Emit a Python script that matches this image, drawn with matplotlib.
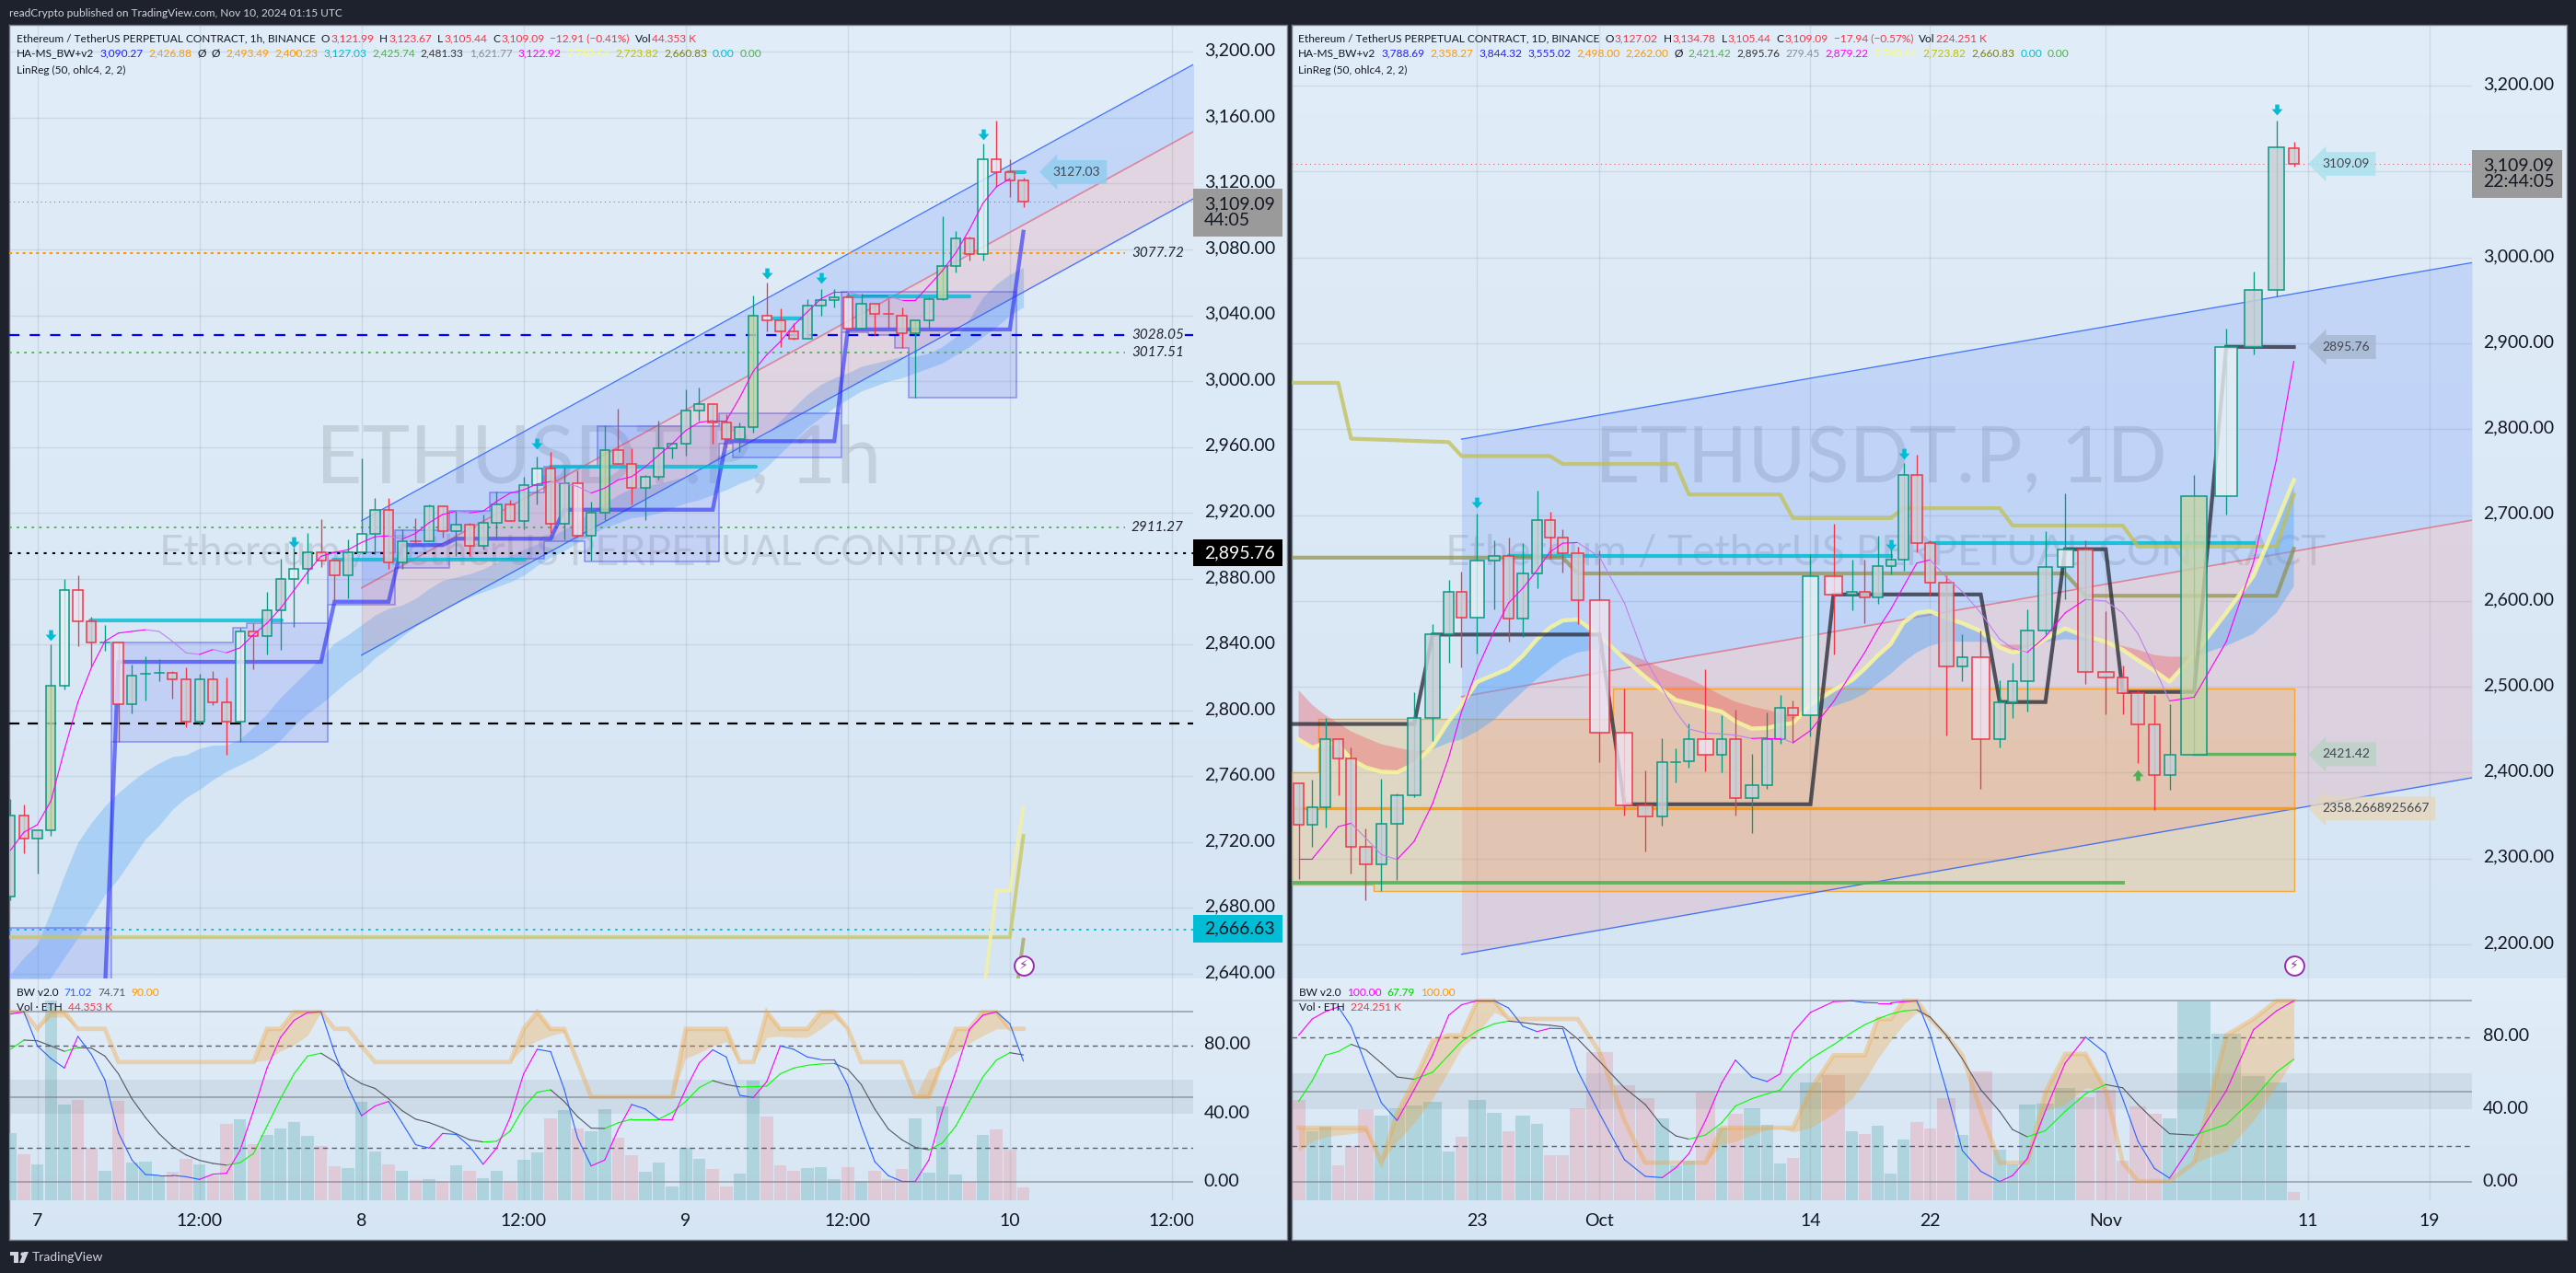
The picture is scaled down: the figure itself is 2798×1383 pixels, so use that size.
import numpy as np
import matplotlib
matplotlib.use('Agg')
import matplotlib.pyplot as plt
from matplotlib.colors import to_rgba
from matplotlib.path import Path
from matplotlib.transforms import Bbox, TransformedBbox, ScaledTranslation

plt.rcParams['font.family'] = ['Lato', 'DejaVu Sans']

W, H = 2798, 1383

# ---------- 1h chart, bars run from index -2 (22:00 Nov 6) to 73 (01:00 Nov 10)
h_start = -2
h_open = [2687,2736,2722,2727,2815,2873,2854,2841,2841,2804,2821,2822,2823,2819,2793,2819,2805,2793,2848,2845,2861,2880,2886,2896,2891,2882,2896,2907,2922,2890,2903,2903,2924,2909,2913,2900,2914,2925,2915,2937,2947,2913.5,2938,2906,2920,2958,2950,2935,2942,2959,2962,2982,2986,2975,2965,2972,3040,3037,3030,3026,3046,3049,3051,3032,3047,3041,3040,3029,3037,3050,3070,3086.5,3077,3134.6,3127,3121.99]
h_high = [2746,2743,2727,2840,2880,2882,2857,2852,2841,2828,2833,2831,2824,2826,2822,2824,2820,2850,2853,2872,2892,2899,2908,2916,2891,2904,2953,2929,2929,2910,2917,2925,2924,2921,2914,2919,2933,2928,2942,2954,2957,2947.5,2946,2927,2973,2983,2959,2943,2976,2962,2995,2996,2986,2980,2975,3052,3060,3044,3035,3050,3056,3056,3054,3053,3047,3050,3045,3037,3051,3100,3091,3088,3144,3158,3135,3123.67]
h_low = [2685,2713,2701,2724,2813,2839,2827,2836,2781,2798,2806,2818,2807,2790,2791,2803,2773,2781,2825,2834,2837,2851,2877,2887,2866,2868,2896,2895,2886,2886,2901,2903,2905,2894,2894,2898,2904,2915,2910,2925,2908,2904,2905,2891,2915.5,2950,2925,2915.5,2940,2953,2955,2976,2962,2960,2957,2969,3030,3021,3025,3026,3040,3045,3031,3032,3028,3032,3020,2990,3032,3049,3066,3073,3073,3118,3112,3105.44]
h_close = [2736,2722,2727,2815,2873,2854,2841,2841.5,2804,2821,2822,2823,2819,2793,2819,2805,2793,2848,2845,2861,2880,2886,2896,2891,2882,2896,2907,2922,2890,2903,2902.5,2924,2909,2913,2900,2914,2925,2915,2937,2947,2913.5,2938,2906,2920,2958,2950,2935,2942,2959,2962,2982,2986,2975,2965,2972,3040,3037,3030,3026,3046,3049,3051,3032,3047,3041,3040.5,3029,3037,3050,3070,3086.5,3077,3134.6,3127,3122,3109.09]
h_vol = [231,158,124,689,329,345,180,102,343,129,133,87,97,143,124,87,263,279,194,226,247,269,222,187,117,111,340,168,124,101,70,73,63,120,101,76,101,67,139,165,282,310,247,238,314,215,155,98,130,48,181,143,108,48,92,412,288,120,101,111,114,73,114,67,101,73,108,282,95,323,89,63,225,244,174,44]
h_bright = [2,3,6,15,19,24,37,40,54,60,70,71]
h_green_fill = [1,42,53,65,67]

h_magenta = [2715,2726,2730.6,2745,2776,2805,2826,2842,2847,2848,2849,2848,2842,2835,2834,2837,2835,2838,2846,2853,2862,2873,2884,2893.6,2896,2897.6,2902,2905.5,2906,2904,2907.5,2914,2919,2921,2920,2921,2927,2932,2934,2937.5,2939,2938,2936,2932,2935,2940,2942,2948,2955,2962,2970,2975,2976,2976,2990,3006,3016,3024,3034,3042,3050,3054,3054,3052,3052,3052,3049,3049,3058,3067,3078,3092,3108,3118,3123]
h_ema_up = [2640,2650,2658,2678,2700,2720,2732,2742,2750,2757,2763,2768,2772,2773,2777,2779,2779,2782.5,2790,2798,2808,2816,2824,2832,2841,2846,2852,2858,2862,2864,2868,2874,2879,2881,2883,2886,2890,2894,2898,2901,2905,2910,2915,2921,2926,2931,2935,2936,2938,2940,2942,2946,2952,2958,2961,2964,2968,2976,2984,2992,2998,3002,3005,3009,3011,3013,3015,3015,3017,3021,3027,3038,3051,3059,3065,3069]
h_ema_lo = [2600,2610,2625,2638,2650,2662,2675,2688,2698,2710,2722,2730,2740,2747,2752,2758,2763,2767,2771,2776,2782,2791,2798,2804,2811,2818,2824,2832,2838,2845,2851,2856,2861,2865,2869,2872,2875,2878,2882,2888,2893,2897,2902,2907,2911,2914,2917,2918,2920,2923,2926,2928,2931,2934,2938,2941,2948,2956,2964,2972,2978,2984,2989,2994,2997,3000,3002,3005,3008,3011,3016,3021,3027,3033,3040,3045]

h_step_x = [5,6,21,22,26,27,30,31,38,39,50,51,59,60,72,73]
h_step_y = [2630,2829.5,2829.5,2866,2866,2900.4,2900.4,2904.3,2904.3,2921.9,2921.9,2963.5,2963.5,3031.4,3031.4,3090.7]

h_box_edges = [-2.1,5.5,14.5,15.5,21.5,26.5,30.5,33.5,37.5,40.5,41.5,50.5,51.5,59.5,61.5,63.5,64.5,72.5]
h_box_top = [2667.9,2841.4,2850.4,2853.2,2896,2909.5,2921,2932.5,2948,2948,2972.8,2980.2,2980.2,3054.1,3054.1,3054.1,3054.1]
h_box_bot = [2600,2781,2781,2781,2864.4,2886.8,2892.3,2892.3,2903,2890.4,2890.4,2961.9,2953.9,3029.8,3027.8,3020,2989.8]

h_cyan_segs = [(3.9,18.1,2854.4),(21.9,36.1,2891.4),(38,53.2,2947.9),(54.4,56.6,3037.8),(60,69,3051.7),(71.9,73.1,3127.03)]
h_arrows_i = [1,19,37,54,58,70]
h_arrows_p = [2846,2902,2962,3065.7,3062.5,3150]
h_lr_x = [24,85.6]
h_lr_mid = [2874.4,3151.6]
h_lr_dev = 40.8
h_pale_x = [70,71,72,73]
h_pale_y = [2625,2690.7,2690.7,2740.64]
h_khaki_x = [-2.1,72,73]
h_khaki_y = [2662.2,2662.2,2723.82]
h_olive_x = [72,73]
h_olive_y = [2600,2660.83]

h_k = [98.7,100,80,72.6,67,85.6,75,60,29,13,4.5,4,4,3.2,1.6,4.7,5.2,18.6,42,67,85,95,99.6,100,76,55.5,39,44.7,47.4,34.8,22,20,28.6,28,21,10.5,20,38,63.6,78,76.6,54.6,25.8,9.5,13,31,45.6,43,37,37,54.6,70,77.7,73.5,51,49.7,59,80,78,73.5,72,72,57,33,12,3.8,0.5,0.5,13,42,65,89.7,98,100,93,71.02]
h_d = [78,83.4,83,80,76.8,79,78.7,74,63.6,49,38,28.5,21,16,12.8,11,10,11.4,16.8,33,49,63.6,74,75.7,70.8,62.7,57.8,55,49,42,37,35,32,28.5,24.9,23.6,24,30,43.8,52.8,54.2,47.4,38.4,31.7,31.5,34.8,37,37,37,41,47.4,55.5,59.6,57.3,55.9,56,56.4,63.6,67,68.6,69.4,69.7,66.3,57.3,42.9,31.2,24.9,20.4,19,23,33,47.4,61.8,71.7,76,74.71]
h_o = [100,100,90,100,100,90,90,90,70.5,70.5,70.5,70.5,70.5,70.5,70.5,70.5,70.5,70.5,70.5,90,90,100,100,100,90,90,80,70.5,70.5,70.5,70.5,70.5,70.5,70.5,70.5,70.5,70.5,70.5,90,100,90,90,70.5,50,50,50,50,50,50,50,90,90,90,90,70.5,70.5,100,90,90,90,100,100,90,70.5,70.5,70.5,70.5,50,50,70.5,90,90,100,100,90,90]
h_l = [100,100,90,97,97,90,90,90,70.5,70.5,70.5,70.5,70.5,70.5,70.5,70.5,70.5,70.5,70.5,71.7,77,80.7,86,100,90,90,80,70.5,70.5,70.5,70.5,70.5,70.5,70.5,70.5,70.5,70.5,70.5,79,83,86,88,70.5,50,50,50,50,50,50,50,72.6,76,80,82.5,70.5,70.5,85,85.7,85,85,90,96,90,70.5,70.5,70.5,70.5,50,66.3,69,76,81.6,86,90,90,90]

# ---------- 1D chart, Sep 11 to Nov 10, bar widths follow the chart's volume scaling
d_width = [15.3,14.3,14.1,13.9,14,18,15.9,18.2,18.9,21.1,13.9,14,20,17.1,13.9,17,14.1,13.9,14,18.2,29.6,24.3,20.9,15.9,13.9,14.3,21.8,13.2,16.8,18.9,14.3,13.9,14,24,26.1,13.9,13.9,14.3,13.9,13.9,15,13.9,21.1,13.9,26.1,15,12.9,19.3,20,22.9,21.4,22.5,14.3,18.9,16.8,16.1,37.1,32.9,26.1,23.9,13.9]
d_open = [2387,2339,2360,2439,2416,2314,2293,2340,2374,2464,2561,2611,2580,2647,2652,2579,2632,2694,2674,2656,2601,2447,2362,2349,2412,2413,2439,2421,2439,2370,2385,2439,2475,2467,2629,2607,2610,2604,2641,2648,2747,2667,2621,2524,2534,2439,2482,2507,2566,2639,2660,2517,2511,2493,2456,2397,2421,2722,2896,2962,3127.02]
d_high = [2388,2391.5,2463.5,2439.5,2429,2335,2392.6,2375.4,2494,2572.6,2624.3,2634,2702,2670.3,2673.4,2667.2,2728.5,2703.6,2683,2662.6,2658.8,2498,2402.2,2439.7,2428.3,2457,2520.2,2466.5,2473,2421.4,2470,2490.3,2483.8,2654.2,2689.4,2648,2648,2675.7,2662.6,2760.4,2770,2671,2629.4,2561.7,2566,2507.5,2527.8,2590.6,2681.7,2724.8,2670.6,2587.5,2524.7,2497,2490.9,2479.8,2746.4,2916.9,2983.4,3159.5,3134.78]
d_low = [2275.8,2313.4,2336.3,2373.5,2282.3,2251.7,2262.4,2275,2371.6,2436.7,2527.8,2522.5,2539,2589.9,2552.7,2558,2614.8,2649.2,2633.2,2573.4,2412.6,2350.1,2308.4,2338.3,2388.8,2406,2401.4,2400.3,2349.7,2329.4,2381.1,2433.6,2434.8,2442.4,2537.4,2589,2573.8,2596.8,2630.9,2635,2657,2606.4,2443.4,2506.3,2381.3,2429.3,2463.2,2471.2,2561.7,2601.7,2503.2,2467.5,2467.5,2410.8,2356.6,2380,2421,2700.2,2887.4,2954.4,3105.44]
d_close = [2339,2360,2439,2416,2314,2293,2340,2374,2464,2561,2611,2580,2647,2652,2579,2632,2694,2674,2656,2601,2447,2362,2349,2412,2412.4,2439,2421,2439,2370,2385,2439,2475,2467,2629,2607,2610,2604,2641,2648,2747,2667,2621,2524,2534,2439,2482,2507,2566,2639,2660,2517,2511,2493,2456,2397,2421,2722,2896,2962,3128,3109.09]
d_vol = [2826,1942,2088,980,1526,2566,2384,2592,2670,2774,1370,1786,2826,2462,1942,2384,2150,1266,1266,2592,4178,3242,2878,2306,980,1110,3034,2046,2436,2592,2124,1032,1188,3320,3528,1942,1864,2098,746,1708,2202,2020,2878,1838,3632,1422,1006,2696,2722,3164,2904,3112,1110,2644,2436,2306,5624,4698,3502,3320,224]
d_bright = [12,20,21,26,33,34,44,49,57]
d_green_fill = [56]

d_yellow = [2438.6,2429,2434.8,2432.8,2415.6,2406,2401,2400.3,2410,2431,2459.7,2478.8,2505.6,2514,2521,2536,2555.4,2568.8,2577.2,2578.4,2559.2,2532.4,2511.4,2496,2484.5,2480.7,2475.7,2471,2459.6,2451.2,2452,2455.8,2457.7,2478.8,2496,2507.5,2521,2536.3,2549.7,2574.6,2586,2588,2580,2574,2564.7,2546,2540,2543,2555.5,2567.8,2558.6,2552.4,2543,2531,2518.6,2506,2537,2586,2629,2691,2740.64]
d_ema2 = [2496,2478.8,2467,2457.7,2448,2440.5,2433,2429,2425,2427,2434.8,2438.6,2448,2461.6,2478.8,2494,2509.4,2521,2532.4,2540,2544,2540,2530.5,2521,2515,2509.4,2500,2490,2482.6,2477,2473,2469.2,2465.4,2469,2477,2484.6,2492,2503.7,2515,2528.6,2540,2547.7,2552.4,2552.4,2552.4,2549,2549,2549,2552,2555.5,2553.6,2551,2547.5,2543,2537,2535,2535,2547.5,2561.7,2586,2617]
d_magenta = [2299.6,2299.6,2318,2337,2341,2323.7,2304.5,2298.8,2320,2364,2417.5,2471,2521,2565,2597.5,2614.8,2635.8,2657,2667.2,2668,2651,2597.5,2532.4,2498,2471,2450.8,2446,2445,2443.6,2439.7,2440.5,2440.5,2434.8,2449,2482.6,2517,2540,2567,2590,2616.7,2644,2647.8,2627.5,2610.9,2586,2555.5,2545,2540,2558.6,2586,2601.7,2599.8,2586,2561.7,2521.6,2483.5,2487.8,2552.4,2644.8,2764.8,2879.22]
d_step_i = [0,8,9,20,21,33,34,44,45,48,49,51,52,56,57,60]
d_step_y = [2456.6,2456.6,2560.8,2560.8,2363.1,2363.1,2607.5,2607.5,2482.2,2482.2,2660.2,2660.2,2494,2494,2896,2895.76]
d_olive_i = [0,18,19,49,50,59,60]
d_olive_y = [2650.4,2650.4,2632,2632,2606,2606,2660.83]
d_khaki_i = [0,3,4,10,11,17,18,24,25,31,32,38,39,45,46,52,53,59,60]
d_khaki_y = [2854,2854,2789,2785,2768.7,2768.7,2759.5,2759.5,2724,2724,2696.4,2696.4,2708,2708,2687.8,2687.8,2663.3,2663.3,2723.82]

d_box_edges_i = [0,2,6,21,61]
d_box_top = [2400.3,2462.7,2462.7,2498]
d_box_bot = [2270,2270,2261.6,2261.6]
d_lr_start = 11
d_lr_mid = [2488.4,2694]
d_lr_dev = 300
d_arrows_i = [12,38,39,59]
d_arrows_p = [2714,2665,2771.4,3172]
d_k = [81,90,94,96.6,86,64.8,43.7,34,51,70,92,97.8,100,100,96,86,83,84.8,84.6,61.4,37.7,12.4,3.2,2.5,8,15.7,34,54.7,67.3,58,55.5,59.7,82.6,93.6,99.5,100,99,98.8,98.8,99.5,100,81.7,51,17.4,6,0.3,3.6,13,39.4,65.7,80,71,46,22.5,7.6,2.2,22.5,50.4,84,94.4,100]
d_d = [44.5,56,70,72,76,73,65.6,58,56.7,60.6,70,77.5,83.4,87.3,88.8,88,87,86.5,85.6,79,66.5,52,42.8,31,25.5,23.7,26,32.7,42,46,48.7,50.8,59.7,68,75.8,82.6,86.8,90,92.7,94.4,95,91,81,68,51,39,29,25,28.4,39,48.7,53.8,52,42.8,34,26.7,25.9,31.8,46,60.6,67.79]
d_o = [30,30,30,30,30,30,10.7,38,56,78,81,81,100,100,90,90,90,90,90,90,71.6,34,10.7,10.7,10.7,10.7,10.7,30,30,30,30,30,30,51,70,70,70,90,90,100,100,90,81,70,39.4,10.7,10.7,10.7,49.6,70.7,70.7,51,10.7,0.5,0.5,0.5,10.7,81,90,100,100]
d_l = [17,22.5,25,26,26.7,28,10.7,22.5,32.7,46,61.4,74,81.7,93.6,90,90,90,90,90,90,71.6,34,10.7,10.7,10.7,10.7,10.7,20.8,22.5,26,29,30,27.6,30,37.7,46,56,68,78,86.8,93.6,90,81,70,39.4,10.7,10.7,10.7,39.4,42.8,52,51,10.7,0.5,0.5,0.5,10.7,17.4,34,53,68]

fig = plt.figure(figsize=(W / 100, H / 100), dpi=100, facecolor='#1e222d')
TICK_SIZE = 14


def px_axes(x0, y0, x1, y1, z=2):
    ax = fig.add_axes([x0 / W, 1 - y1 / H, (x1 - x0) / W, (y1 - y0) / H], zorder=z)
    ax.patch.set_alpha(0)
    for s in ax.spines.values():
        s.set_visible(False)
    return ax


def style_ticks(ax):
    ax.yaxis.tick_right()
    ax.tick_params(axis='y', length=0, pad=8.5, labelsize=TICK_SIZE, labelcolor='#131722')
    ax.tick_params(axis='x', length=0, pad=10, labelsize=TICK_SIZE, labelcolor='#131722')
    ax.grid(True, color='#8a9aa8', alpha=0.22, lw=1)
    ax.set_axisbelow(True)


def nudge(ax):
    # the reference prints its scale labels a little above the gridline
    off = ScaledTranslation(0, 2.0 / 72, fig.dpi_scale_trans)
    for lab in ax.get_yticklabels():
        lab.set_transform(lab.get_transform() + off)


def candles(ax, x, o, h, l, c, width, bright, greenish, lw=1.1):
    for n in range(len(o)):
        col = '#089981' if c[n] >= o[n] else '#f23645'
        fill = to_rgba('#c8cfd7', 0.85)
        if n in bright:
            fill = to_rgba('#e9f0f5', 0.8) if c[n] >= o[n] else to_rgba('#eee4f2', 0.8)
        if n in greenish:
            fill = to_rgba('#c2d4a6', 0.8)
        wd = width[n] if np.ndim(width) else width
        top, bot = max(o[n], c[n]), min(o[n], c[n])
        ax.plot([x[n], x[n]], [l[n], h[n]], color=col, lw=0.95, zorder=5, solid_capstyle='butt')
        if top - bot < 1.2:
            ax.plot([x[n] - wd / 2, x[n] + wd / 2], [top, top], color=col, lw=lw, zorder=5)
        else:
            ax.bar(x[n], top - bot, wd, bot, facecolor=fill, edgecolor=col, lw=lw, zorder=5)


def dir_line(ax, x, y, up, down, lw=0.8, z=6):
    for n in range(len(x) - 1):
        col = up if y[n + 1] >= y[n] else down
        ax.plot(x[n:n + 2], y[n:n + 2], color=col, lw=lw, zorder=z, solid_capstyle='round')


arrow_path = Path([(-0.38, 1), (0.38, 1), (0.38, 0.15), (1, 0.15), (0, -1), (-1, 0.15), (-0.38, 0.15), (-0.38, 1)], closed=True)
arrow_up = Path([(-0.38, -1), (0.38, -1), (0.38, -0.15), (1, -0.15), (0, 1), (-1, -0.15), (-0.38, -0.15), (-0.38, -1)], closed=True)


def osc_pane(ax, x, k, d, o, l, ymin, ymax):
    ax.yaxis.tick_right()
    ax.grid(False, axis='y')
    ax.axhspan(40, 60, color='#5d6b7a', alpha=0.11, lw=0, zorder=1)
    for v in (100, 50, 0):
        ax.axhline(v, color='#787b86', alpha=0.7, lw=1.1, zorder=2)
    for v in (80, 20):
        ax.axhline(v, color='#5a5e6b', lw=1.0, ls=(0, (4, 3)), zorder=2)
    ax.fill_between(x, o, l, color='#f5a030', alpha=0.3, lw=0, zorder=3)
    ax.plot(x, o, color='#f5a030', alpha=0.35, lw=3.4, zorder=3, solid_joinstyle='miter')
    dir_line(ax, x, d, '#00ff00', '#555761')
    dir_line(ax, x, k, '#ff00ff', '#2962ff')
    ax.set_ylim(ymin, ymax)
    ax.set_yticks([0, 40, 80])
    ax.set_yticklabels(['0.00', '40.00', '80.00'])
    nudge(ax)


# backgrounds, each pane fades from a lighter top to a darker bottom
bg = fig.add_axes([0, 0, 1, 1], zorder=0)
bg.axis('off')
grad = np.linspace(0, 1, 256)[:, None, None]
grad = (np.array([225, 237, 248]) + grad * (np.array([214, 229, 244]) - np.array([225, 237, 248]))) / 255
for box in [(10, 27, 1398, 1063), (10, 1063, 1398, 1347), (1403, 27, 2788, 1063), (1403, 1063, 2788, 1347)]:
    bg.imshow(grad, extent=(box[0], box[2], box[3], box[1]), aspect='auto', interpolation='bilinear')
bg.plot([10, 1398, 1398, 10, 10], [27, 27, 1347, 1347, 27], color='#787b86', lw=1)
bg.plot([1403, 2788, 2788, 1403, 1403], [27, 27, 1347, 1347, 27], color='#787b86', lw=1)
bg.set_xlim(0, W)
bg.set_ylim(H, 0)

# ---------- left price pane
ax = px_axes(10, 27, 1296, 1063)
style_ticks(ax)
h_x = np.arange(h_start, h_start + len(h_open))
ax.set_xlim(-2.086, 85.57)
ax.set_ylim(2637.2, 3216.4)
ax.set_yticks(np.arange(2640, 3201, 40))
ax.set_yticklabels([f'{v:,.2f}' for v in np.arange(2640, 3201, 40)])
nudge(ax)
hour_ticks = np.arange(0, 85, 12)
ax.set_xticks(hour_ticks)
ax.tick_params(axis='x', labelbottom=False)

ax.text(650, 500, 'ETHUSDT.P, 1h', fontsize=63, color='#434651', alpha=0.15, ha='center', va='center',
        transform=bg.transData, zorder=1)
ax.text(651, 601, 'Ethereum / TetherUS PERPETUAL CONTRACT', fontsize=33, color='#434651', alpha=0.15, ha='center',
        va='center', transform=bg.transData, zorder=1)

ax.fill_between(h_x, h_ema_lo, h_ema_up, color='#5aa9f7', alpha=0.35, lw=0, zorder=2)
ax.stairs(h_box_top, h_box_edges, baseline=h_box_bot, fill=True, color='#5b62f5', alpha=0.17, lw=0, zorder=2)
ax.stairs(h_box_top, h_box_edges, baseline=h_box_bot, fill=False, color='#4a50f0', alpha=0.55, lw=1.1, zorder=2)

mid = np.array(h_lr_mid)
ax.fill_between(h_lr_x, mid, mid + h_lr_dev, color='#2962ff', alpha=0.15, lw=0, zorder=2)
ax.fill_between(h_lr_x, mid - h_lr_dev, mid, color='#f23645', alpha=0.12, lw=0, zorder=2)
ax.plot(h_lr_x, mid + h_lr_dev, color='#2962ff', lw=0.95, alpha=0.85, zorder=3)
ax.plot(h_lr_x, mid - h_lr_dev, color='#2962ff', lw=0.95, alpha=0.85, zorder=3)
ax.plot(h_lr_x, mid, color='#f23645', lw=1.2, alpha=0.5, zorder=3)

for level, col, style, lw, xmax in [(2911.27, '#4caf50', (0, (1.5, 3)), 1.3, 80.5), (3017.51, '#4caf50', (0, (1.5, 3)), 1.3, 80.5),
                                    (3028.05, '#0000ff', (0, (5, 5)), 1.6, 80.5), (3077.72, '#ff9800', (0, (1.5, 2)), 1.5, 80.5),
                                    (2895.76, '#000000', (0, (1.5, 3)), 1.5, 85.6), (2791.9, '#000000', (0, (5, 4)), 1.6, 85.6),
                                    (2666.63, '#00bcd4', (0, (1.5, 3)), 1.3, 85.6), (3109.09, '#f23645', (0, (1, 4)), 0.7, 85.6)]:
    ax.plot([-2.1, xmax], [level, level], color=col, ls=style, lw=lw, zorder=4)
for lab, level in [('3077.72', 3077.72), ('3028.05', 3028.05), ('3017.51', 3017.51), ('2911.27', 2911.27)]:
    ax.text(81, level, lab, fontsize=11, style='italic', color='#22252e', va='center', ha='left', zorder=7)
ax.plot([85, 85.6], [3028.05, 3028.05], color='#0000ff', lw=1.6, zorder=4)

ax.plot(h_khaki_x, h_khaki_y, color='#c8c860', alpha=0.8, lw=2.8, zorder=4)
ax.plot(h_pale_x, h_pale_y, color='#f0f0a8', alpha=0.9, lw=2.8, zorder=4)
ax.plot(h_olive_x, h_olive_y, color='#a0a050', alpha=0.7, lw=2.8, zorder=4)
ax.plot(h_step_x, h_step_y, color='#2a2ff5', alpha=0.62, lw=3.1, zorder=4, solid_joinstyle='miter')
for x0, x1, p in h_cyan_segs:
    ax.plot([x0, x1], [p, p], color='#00bcd4', alpha=0.8, lw=3.0, zorder=4, solid_capstyle='round')

candles(ax, h_x, h_open, h_high, h_low, h_close, 0.7, [n + 2 for n in h_bright], [n + 2 for n in h_green_fill])
dir_line(ax, h_x[:len(h_magenta)], h_magenta, '#ff00ff', '#c080f0')
ax.plot(h_arrows_i, h_arrows_p, ls='', marker=arrow_path, ms=8.5, color='#00bcd4', mew=0, zorder=7)
ax.text(75.2, 3127.03, '3127.03', fontsize=10, color='#434651', va='center', ha='left', zorder=7,
        bbox=dict(boxstyle='larrow,pad=0.5', fc='#92cdf0', ec='none', alpha=0.85))
ax.scatter([73], [2644.8], s=225, fc='white', ec='#9c27b0', lw=1.4, zorder=8)
ax.text(73, 2644.8, '\u26a1', fontsize=10, color='#9c27b0', ha='center', va='center', family='DejaVu Sans', zorder=9)

# ---------- left oscillator pane
ax2 = px_axes(10, 1063, 1296, 1304)
style_ticks(ax2)
ax2.set_xlim(-2.086, 85.57)
h_colors = ['#8cc5cc' if c >= o else '#e5b3c0' for o, c in zip(h_open, h_close)]
vax = ax2.twinx()
vax.patch.set_alpha(0)
vax.set_ylim(0, (1304 - 1063) * 3.168)
vax.bar(h_x, h_vol, 0.92, color=h_colors, alpha=0.55, zorder=1)
vax.axis('off')
vax.set_zorder(ax2.get_zorder() - 1)
osc_pane(ax2, h_x, h_k, h_d, h_o, h_l, -10.65, 119.6)
ax2.set_xticks(hour_ticks)
ax2.set_xticklabels(['7', '12:00', '8', '12:00', '9', '12:00', '10', '12:00'])
clip = TransformedBbox(Bbox([[0, -0.5], [1, 1]]), ax2.transAxes)
for lab in ax2.get_xticklabels():
    lab.set_clip_on(True)
    lab.set_clip_box(clip)

# ---------- right price pane
edges = 1402.9 + np.concatenate([[0], np.cumsum(d_width)])
d_x = (edges[:-1] + edges[1:]) / 2
d_bw = np.array(d_width)
day = 16.5
ax3 = px_axes(1403, 27, 2685, 1063)
style_ticks(ax3)
ax3.set_xlim(1403, 2685)
ax3.set_ylim(2160.2, 3271)
ax3.set_yticks(np.arange(2200, 3201, 100))
ax3.set_yticklabels([f'{v:,.2f}' for v in np.arange(2200, 3201, 100)])
nudge(ax3)
d_ticks = [d_x[12], d_x[20], d_x[33], d_x[41], d_x[51], edges[-1] + day / 2, edges[-1] + day * 8.5]
ax3.set_xticks(d_ticks)
ax3.tick_params(axis='x', labelbottom=False)

ax3.text(2043, 500, 'ETHUSDT.P, 1D', fontsize=62, color='#434651', alpha=0.15, ha='center', va='center',
         transform=bg.transData, zorder=1)
ax3.text(2048, 601, 'Ethereum / TetherUS PERPETUAL CONTRACT', fontsize=33, color='#434651', alpha=0.15, ha='center',
         va='center', transform=bg.transData, zorder=1)

lr_x = [d_x[d_lr_start], 2685]
mid = np.array(d_lr_mid)
ax3.fill_between(lr_x, mid, mid + d_lr_dev, color='#2962ff', alpha=0.15, lw=0, zorder=2)
ax3.fill_between(lr_x, mid - d_lr_dev, mid, color='#f23645', alpha=0.12, lw=0, zorder=2)
ax3.plot(lr_x, mid + d_lr_dev, color='#2962ff', lw=0.95, alpha=0.85, zorder=3)
ax3.plot(lr_x, mid - d_lr_dev, color='#2962ff', lw=0.95, alpha=0.85, zorder=3)
ax3.plot(lr_x, mid, color='#f23645', lw=1.2, alpha=0.5, zorder=3)

box_edges = [edges[n] for n in d_box_edges_i]
box_edges[0] = 1403
box_edges[-1] = d_x[-1]
ax3.stairs(d_box_top, box_edges, baseline=d_box_bot, fill=True, color='#ff9800', alpha=0.2, lw=0, zorder=2)
ax3.stairs(d_box_top, box_edges, baseline=d_box_bot, fill=False, color='#ff9800', alpha=0.75, lw=1.0, zorder=2)

yel = np.array(d_yellow)
ema2 = np.array(d_ema2)
ax3.fill_between(d_x, yel, ema2, where=yel >= ema2, interpolate=True, color='#5aa9f7', alpha=0.45, lw=0, zorder=3)
ax3.fill_between(d_x, yel, ema2, where=yel < ema2, interpolate=True, color='#f2505a', alpha=0.35, lw=0, zorder=3)

ax3.plot([1403, d_x[-1]], [2358.27, 2358.27], color='#ff9800', lw=2.4, alpha=0.85, zorder=4)
ax3.plot([1403, d_x[52]], [2272, 2272], color='#4caf50', lw=2.8, alpha=0.85, zorder=4)
ax3.plot([d_x[56], d_x[60]], [2421.42, 2421.42], color='#4caf50', lw=2.4, alpha=0.85, zorder=4)
ax3.plot([d_x[14], d_x[38]], [2652.3, 2652.3], color='#00bcd4', lw=3.0, alpha=0.85, zorder=4)
ax3.plot([d_x[41], d_x[58]], [2667.5, 2667.5], color='#00bcd4', lw=3.0, alpha=0.85, zorder=4)
ax3.plot([1403, 2685], [3109.09, 3109.09], color='#f23645', ls=(0, (1, 4)), lw=0.7, zorder=4)

ax3.plot(np.r_[1403, d_x[d_khaki_i]], np.r_[d_khaki_y[0], d_khaki_y], color='#c0c050', alpha=0.75, lw=3.0, zorder=4)
ax3.plot(np.r_[1403, d_x[d_olive_i]], np.r_[d_olive_y[0], d_olive_y], color='#8f8f45', alpha=0.7, lw=3.0, zorder=4)
ax3.plot(d_x, d_yellow, color='#f4f4a0', alpha=0.9, lw=3.2, zorder=4)
ax3.plot(np.r_[1403, d_x[d_step_i]], np.r_[d_step_y[0], d_step_y], color='#2a2d3a', alpha=0.78, lw=3.0, zorder=4, solid_joinstyle='miter')

candles(ax3, d_x, d_open, d_high, d_low, d_close, d_bw * 0.74, d_bright, d_green_fill)
dir_line(ax3, d_x, d_magenta, '#ff00ff', '#c080f0')
ax3.plot(d_x[d_arrows_i], d_arrows_p, ls='', marker=arrow_path, ms=8.5, color='#00bcd4', mew=0, zorder=7)
ax3.plot([d_x[53]], [2397.3], ls='', marker=arrow_up, ms=8.5, color='#4caf50', mew=0, zorder=7)
for lab, level, col, tx in [('3109.09', 3109.09, '#a8e2ee', 2522), ('2895.76', 2895.76, '#a6b6d0', 2522),
                            ('2421.42', 2421.42, '#b8d2c4', 2522), ('2358.2668925667', 2358.27, '#e6d6bc', 2522)]:
    ax3.text(tx, level, lab, fontsize=10, color='#434651', va='center', ha='left', zorder=7,
             bbox=dict(boxstyle='larrow,pad=0.5', fc=col, ec='none', alpha=0.8))
ax3.scatter([d_x[-1]], [2175], s=225, fc='white', ec='#9c27b0', lw=1.4, zorder=8)
ax3.text(d_x[-1], 2175, '\u26a1', fontsize=10, color='#9c27b0', ha='center', va='center', family='DejaVu Sans', zorder=9)

# ---------- right oscillator pane
ax4 = px_axes(1403, 1063, 2685, 1304)
style_ticks(ax4)
ax4.set_xlim(1403, 2685)
d_colors = ['#8cc5cc' if c >= o else '#e5b3c0' for o, c in zip(d_open, d_close)]
vax2 = ax4.twinx()
vax2.patch.set_alpha(0)
vax2.set_ylim(0, (1304 - 1063) * 26)
vax2.bar(d_x, d_vol, d_bw - 1.2, color=d_colors, alpha=0.55, zorder=1)
vax2.axis('off')
vax2.set_zorder(ax4.get_zorder() - 1)
osc_pane(ax4, d_x, d_k, d_d, d_o, d_l, -10, 112.3)
ax4.set_xticks(d_ticks)
ax4.set_xticklabels(['23', 'Oct', '14', '22', 'Nov', '11', '19'])

# ---------- price tags and header text, placed in figure pixels
over = fig.add_axes([0, 0, 1, 1], zorder=10)
over.axis('off')
over.set_xlim(0, W)
over.set_ylim(H, 0)
over.patch.set_alpha(0)


def tag(x0, y0, x1, y1, col, lines, tcol):
    over.fill([x0, x1, x1, x0], [y0, y0, y1, y1], color=col, lw=0)
    yy = np.linspace(y0, y1, len(lines) + 2)[1:-1]
    for s, y in zip(lines, yy):
        over.text(x0 + 12, y, s, fontsize=TICK_SIZE, color=tcol, va='center', ha='left')


tag(1296, 205, 1393, 257, '#9a9a9a', ['3,109.09', '44:05'], '#131722')
tag(1296, 586, 1393, 615, '#000000', ['2,895.76'], '#ffffff')
tag(1296, 994, 1393, 1024, '#00bcd4', ['2,666.63'], '#131722')
tag(2685, 163, 2783, 215, '#9a9a9a', ['3,109.09', '22:44:05'], '#131722')


def chain(x, y, parts, size=8.6):
    rend = fig.canvas.get_renderer()
    for s, col in parts:
        t = over.text(x, y, s, fontsize=size, color=col, va='center', ha='left')
        gap = 1 if s in ('O', 'H', 'L', 'C', 'Vol') else 6
        x = over.transData.inverted().transform(t.get_window_extent(rend))[1, 0] + gap


dark, red = '#131722', '#f23645'
blue, orange, cyan, green, grey = '#2020ff', '#ff9800', '#00bcd4', '#4caf50', '#8a8d96'
mag, yel_c, ol1, ol2 = '#ff00ff', '#ffff66', '#c0c000', '#808000'

over.text(10, 15, 'readCrypto published on TradingView.com, Nov 10, 2024 01:15 UTC', fontsize=8.6, color='#d1d4dc', va='center')
chain(18, 42, [('Ethereum / TetherUS PERPETUAL CONTRACT, 1h, BINANCE', dark), ('O', dark), ('3,121.99', red), ('H', dark), ('3,123.67', red),
               ('L', dark), ('3,105.44', red), ('C', dark), ('3,109.09', red), ('\u221212.91 (\u22120.41%)', red), ('Vol', dark), ('44.353 K', red)])
chain(18, 58, [('HA-MS_BW+v2', dark), ('3,090.27', blue), ('2,426.88', orange), ('\u00d8', dark), ('\u00d8', dark), ('2,493.49', orange), ('2,400.23', orange),
               ('3,127.03', cyan), ('2,425.74', green), ('2,481.33', '#333333'), ('1,621.77', grey), ('3,122.92', mag), ('2,740.64', yel_c),
               ('2,723.82', ol1), ('2,660.83', ol2), ('0.00', cyan), ('0.00', green)])
chain(18, 76, [('LinReg (50, ohlc4, 2, 2)', dark)])
chain(1410, 42, [('Ethereum / TetherUS PERPETUAL CONTRACT, 1D, BINANCE', dark), ('O', dark), ('3,127.02', red), ('H', dark), ('3,134.78', red),
                 ('L', dark), ('3,105.44', red), ('C', dark), ('3,109.09', red), ('\u221217.94 (\u22120.57%)', red), ('Vol', dark), ('224.251 K', red)])
chain(1410, 58, [('HA-MS_BW+v2', dark), ('3,788.69', blue), ('2,358.27', orange), ('3,844.32', blue), ('3,555.02', blue), ('2,498.00', orange), ('2,262.00', orange),
                 ('\u00d8', dark), ('2,421.42', green), ('2,895.76', '#333333'), ('279.45', grey), ('2,879.22', mag), ('2,740.64', yel_c),
                 ('2,723.82', ol1), ('2,660.83', ol2), ('0.00', cyan), ('0.00', green)])
chain(1410, 76, [('LinReg (50, ohlc4, 2, 2)', dark)])
chain(18, 1078, [('BW v2.0', dark), ('71.02', '#2962ff'), ('74.71', '#555761'), ('90.00', orange)])
chain(18, 1095, [('Vol \u00b7 ETH', dark), ('44.353 K', red)])
chain(1411, 1078, [('BW v2.0', dark), ('100.00', mag), ('67.79', '#00d000'), ('100.00', orange)])
chain(1411, 1095, [('Vol \u00b7 ETH', dark), ('224.251 K', red)])

# footer logo drawn from simple shapes, then the name
over.fill([11, 20, 20, 15, 15, 11], [1360, 1360, 1372, 1372, 1364, 1364], color='#d1d4dc', lw=0)
over.scatter([24], [1362], s=9, color='#d1d4dc', lw=0)
over.fill([26, 31, 26, 21], [1360, 1360, 1372, 1372], color='#d1d4dc', lw=0)
over.text(35, 1366, 'TradingView', fontsize=10, color='#d1d4dc', va='center')

fig.savefig('out.png', dpi=100, facecolor=fig.get_facecolor())
